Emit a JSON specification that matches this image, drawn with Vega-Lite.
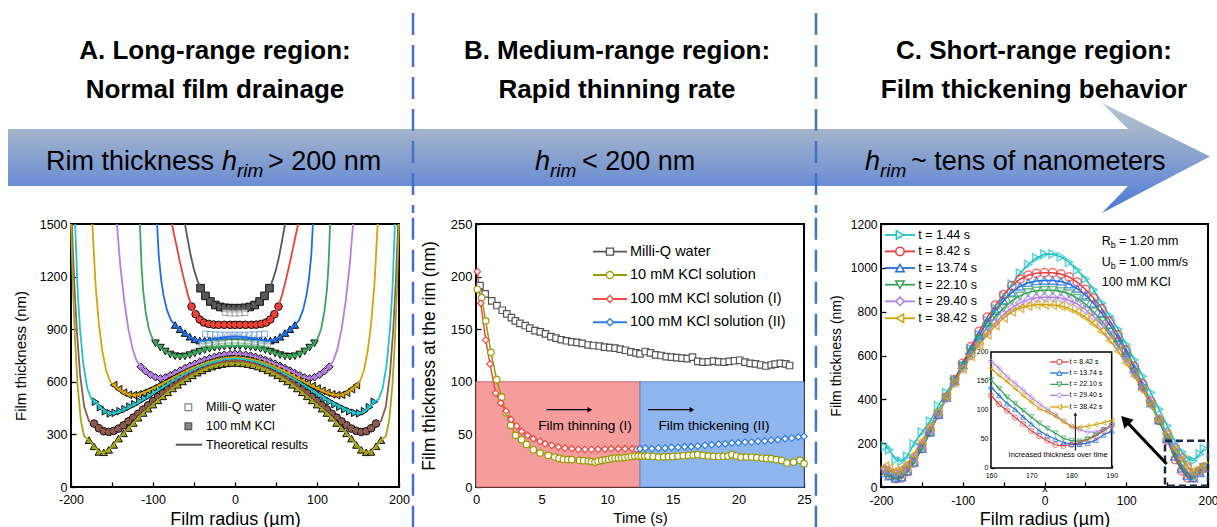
{
"$schema":"https://vega.github.io/schema/vega-lite/v6.json",
"background":"white",
"padding":{"left":8,"top":0,"right":0,"bottom":0},
"spacing":0,
"config":{
 "font":"Liberation Sans",
 "view":{"stroke":"black","strokeWidth":2},
 "axis":{"domain":false,"grid":false,"tickSize":-5,"tickColor":"black","tickWidth":1.3,"labelPadding":9,"labelColor":"black","labelFont":"Liberation Sans","labelFlush":false,"labelOverlap":false,"labelBound":false,"titleFont":"Liberation Sans","titleFontWeight":"normal","titleColor":"black","zindex":1},
 "axisBottom":{"labelPadding":11},
 "text":{"font":"Liberation Sans","color":"black"}
},
"datasets":{
"A":[
{"s":1,"x":-61,"y":1500,"m":0},{"s":1,"x":-58,"y":1420,"m":0},{"s":1,"x":-54,"y":1320,"m":0},{"s":1,"x":-50,"y":1240,"m":0},{"s":1,"x":-46,"y":1180,"m":0},
{"s":1,"x":-42,"y":1134,"m":1},{"s":1,"x":-36,"y":1090,"m":1},{"s":1,"x":-30,"y":1058,"m":1},{"s":1,"x":-24,"y":1038,"m":1},{"s":1,"x":-18,"y":1027,"m":1},{"s":1,"x":-12,"y":1022,"m":1},{"s":1,"x":-6,"y":1020,"m":1},{"s":1,"x":0,"y":1020,"m":1},{"s":1,"x":6,"y":1020,"m":1},{"s":1,"x":12,"y":1022,"m":1},{"s":1,"x":18,"y":1027,"m":1},{"s":1,"x":24,"y":1038,"m":1},{"s":1,"x":30,"y":1058,"m":1},{"s":1,"x":36,"y":1090,"m":1},{"s":1,"x":42,"y":1134,"m":1},
{"s":1,"x":46,"y":1180,"m":0},{"s":1,"x":50,"y":1240,"m":0},{"s":1,"x":54,"y":1320,"m":0},{"s":1,"x":58,"y":1420,"m":0},{"s":1,"x":61,"y":1500,"m":0},
{"s":2,"x":-77,"y":1500,"m":0},{"s":2,"x":-72,"y":1390,"m":0},{"s":2,"x":-67,"y":1280,"m":0},{"s":2,"x":-62,"y":1180,"m":0},{"s":2,"x":-57,"y":1090,"m":0},
{"s":2,"x":-53,"y":1029,"m":1},{"s":2,"x":-48,"y":985,"m":1},{"s":2,"x":-43,"y":955,"m":1},{"s":2,"x":-38,"y":938,"m":1},{"s":2,"x":-32,"y":930,"m":1},{"s":2,"x":-26,"y":926,"m":1},{"s":2,"x":-20,"y":925,"m":1},{"s":2,"x":-13,"y":925,"m":1},{"s":2,"x":-6,"y":925,"m":1},{"s":2,"x":0,"y":925,"m":1},{"s":2,"x":6,"y":925,"m":1},{"s":2,"x":13,"y":925,"m":1},{"s":2,"x":20,"y":925,"m":1},{"s":2,"x":26,"y":926,"m":1},{"s":2,"x":32,"y":930,"m":1},{"s":2,"x":38,"y":938,"m":1},{"s":2,"x":43,"y":955,"m":1},{"s":2,"x":48,"y":985,"m":1},{"s":2,"x":53,"y":1029,"m":1},
{"s":2,"x":57,"y":1090,"m":0},{"s":2,"x":62,"y":1180,"m":0},{"s":2,"x":67,"y":1280,"m":0},{"s":2,"x":72,"y":1390,"m":0},{"s":2,"x":77,"y":1500,"m":0},
{"s":3,"x":-95,"y":1500,"m":0},{"s":3,"x":-93,"y":1320,"m":0},{"s":3,"x":-90,"y":1180,"m":0},{"s":3,"x":-87,"y":1090,"m":0},{"s":3,"x":-83,"y":1010,"m":0},{"s":3,"x":-78,"y":950,"m":0},
{"s":3,"x":-73,"y":924,"m":1},{"s":3,"x":-67,"y":900,"m":1},{"s":3,"x":-61,"y":878,"m":1},{"s":3,"x":-55,"y":857,"m":1},{"s":3,"x":-49,"y":842,"m":1},{"s":3,"x":-43,"y":835,"m":1},{"s":3,"x":-37,"y":835,"m":1},{"s":3,"x":-31,"y":839,"m":1},{"s":3,"x":-25,"y":845,"m":1},{"s":3,"x":-19,"y":850,"m":1},{"s":3,"x":-13,"y":855,"m":1},{"s":3,"x":-6,"y":858,"m":1},{"s":3,"x":0,"y":859,"m":1},{"s":3,"x":6,"y":858,"m":1},{"s":3,"x":13,"y":855,"m":1},{"s":3,"x":19,"y":850,"m":1},{"s":3,"x":25,"y":845,"m":1},{"s":3,"x":31,"y":839,"m":1},{"s":3,"x":37,"y":835,"m":1},{"s":3,"x":43,"y":835,"m":1},{"s":3,"x":49,"y":842,"m":1},{"s":3,"x":55,"y":857,"m":1},{"s":3,"x":61,"y":878,"m":1},{"s":3,"x":67,"y":900,"m":1},{"s":3,"x":73,"y":924,"m":1},
{"s":3,"x":78,"y":950,"m":0},{"s":3,"x":83,"y":1010,"m":0},{"s":3,"x":87,"y":1090,"m":0},{"s":3,"x":90,"y":1180,"m":0},{"s":3,"x":93,"y":1320,"m":0},{"s":3,"x":95,"y":1500,"m":0},
{"s":4,"x":-116,"y":1500,"m":0},{"s":4,"x":-114,"y":1260,"m":0},{"s":4,"x":-112,"y":1120,"m":0},{"s":4,"x":-109,"y":1000,"m":0},{"s":4,"x":-105,"y":900,"m":0},{"s":4,"x":-101,"y":850,"m":0},
{"s":4,"x":-97,"y":820,"m":1},{"s":4,"x":-91,"y":795,"m":1},{"s":4,"x":-85,"y":773,"m":1},{"s":4,"x":-79,"y":756,"m":1},{"s":4,"x":-73,"y":746,"m":1},{"s":4,"x":-67,"y":743,"m":1},{"s":4,"x":-61,"y":745,"m":1},{"s":4,"x":-55,"y":752,"m":1},{"s":4,"x":-49,"y":762,"m":1},{"s":4,"x":-43,"y":772,"m":1},{"s":4,"x":-37,"y":781,"m":1},{"s":4,"x":-31,"y":788,"m":1},{"s":4,"x":-25,"y":794,"m":1},{"s":4,"x":-19,"y":798,"m":1},{"s":4,"x":-13,"y":801,"m":1},{"s":4,"x":-6,"y":803,"m":1},{"s":4,"x":0,"y":803,"m":1},{"s":4,"x":6,"y":803,"m":1},{"s":4,"x":13,"y":801,"m":1},{"s":4,"x":19,"y":798,"m":1},{"s":4,"x":25,"y":794,"m":1},{"s":4,"x":31,"y":788,"m":1},{"s":4,"x":37,"y":781,"m":1},{"s":4,"x":43,"y":772,"m":1},{"s":4,"x":49,"y":762,"m":1},{"s":4,"x":55,"y":752,"m":1},{"s":4,"x":61,"y":745,"m":1},{"s":4,"x":67,"y":743,"m":1},{"s":4,"x":73,"y":746,"m":1},{"s":4,"x":79,"y":756,"m":1},{"s":4,"x":85,"y":773,"m":1},{"s":4,"x":91,"y":795,"m":1},{"s":4,"x":97,"y":820,"m":1},
{"s":4,"x":101,"y":850,"m":0},{"s":4,"x":105,"y":900,"m":0},{"s":4,"x":109,"y":1000,"m":0},{"s":4,"x":112,"y":1120,"m":0},{"s":4,"x":114,"y":1260,"m":0},{"s":4,"x":116,"y":1500,"m":0},
{"s":5,"x":-144,"y":1500,"m":0},{"s":5,"x":-140,"y":1270,"m":0},{"s":5,"x":-135,"y":1060,"m":0},{"s":5,"x":-130,"y":900,"m":0},{"s":5,"x":-125,"y":790,"m":0},{"s":5,"x":-120,"y":720,"m":0},
{"s":5,"x":-115,"y":686,"m":1},{"s":5,"x":-109,"y":660,"m":1},{"s":5,"x":-103,"y":640,"m":1},{"s":5,"x":-97,"y":626,"m":1},{"s":5,"x":-91,"y":619,"m":1},{"s":5,"x":-85,"y":625,"m":1},{"s":5,"x":-79,"y":637,"m":1},{"s":5,"x":-73,"y":650,"m":1},{"s":5,"x":-67,"y":664,"m":1},{"s":5,"x":-61,"y":678,"m":1},{"s":5,"x":-55,"y":691,"m":1},{"s":5,"x":-49,"y":703,"m":1},{"s":5,"x":-43,"y":714,"m":1},{"s":5,"x":-37,"y":725,"m":1},{"s":5,"x":-31,"y":734,"m":1},{"s":5,"x":-25,"y":742,"m":1},{"s":5,"x":-19,"y":749,"m":1},{"s":5,"x":-13,"y":754,"m":1},{"s":5,"x":-6,"y":758,"m":1},{"s":5,"x":0,"y":760,"m":1},{"s":5,"x":6,"y":758,"m":1},{"s":5,"x":13,"y":754,"m":1},{"s":5,"x":19,"y":749,"m":1},{"s":5,"x":25,"y":742,"m":1},{"s":5,"x":31,"y":734,"m":1},{"s":5,"x":37,"y":725,"m":1},{"s":5,"x":43,"y":714,"m":1},{"s":5,"x":49,"y":703,"m":1},{"s":5,"x":55,"y":691,"m":1},{"s":5,"x":61,"y":678,"m":1},{"s":5,"x":67,"y":664,"m":1},{"s":5,"x":73,"y":650,"m":1},{"s":5,"x":79,"y":637,"m":1},{"s":5,"x":85,"y":625,"m":1},{"s":5,"x":91,"y":619,"m":1},{"s":5,"x":97,"y":626,"m":1},{"s":5,"x":103,"y":640,"m":1},{"s":5,"x":109,"y":660,"m":1},{"s":5,"x":115,"y":686,"m":1},
{"s":5,"x":120,"y":720,"m":0},{"s":5,"x":125,"y":790,"m":0},{"s":5,"x":130,"y":900,"m":0},{"s":5,"x":135,"y":1060,"m":0},{"s":5,"x":140,"y":1270,"m":0},{"s":5,"x":144,"y":1500,"m":0},
{"s":6,"x":-174,"y":1500,"m":0},{"s":6,"x":-170,"y":1150,"m":0},{"s":6,"x":-166,"y":930,"m":0},{"s":6,"x":-162,"y":780,"m":0},{"s":6,"x":-157,"y":660,"m":0},{"s":6,"x":-152,"y":600,"m":0},
{"s":6,"x":-148,"y":581,"m":1},{"s":6,"x":-142,"y":558,"m":1},{"s":6,"x":-136,"y":538,"m":1},{"s":6,"x":-130,"y":526,"m":1},{"s":6,"x":-124,"y":524,"m":1},{"s":6,"x":-118,"y":528,"m":1},{"s":6,"x":-112,"y":537,"m":1},{"s":6,"x":-106,"y":549,"m":1},{"s":6,"x":-100,"y":562,"m":1},{"s":6,"x":-94,"y":576,"m":1},{"s":6,"x":-88,"y":591,"m":1},{"s":6,"x":-82,"y":606,"m":1},{"s":6,"x":-76,"y":621,"m":1},{"s":6,"x":-70,"y":636,"m":1},{"s":6,"x":-64,"y":651,"m":1},{"s":6,"x":-58,"y":665,"m":1},{"s":6,"x":-52,"y":678,"m":1},{"s":6,"x":-46,"y":690,"m":1},{"s":6,"x":-40,"y":701,"m":1},{"s":6,"x":-34,"y":711,"m":1},{"s":6,"x":-28,"y":719,"m":1},{"s":6,"x":-22,"y":726,"m":1},{"s":6,"x":-16,"y":732,"m":1},{"s":6,"x":-10,"y":736,"m":1},{"s":6,"x":-4,"y":739,"m":1},{"s":6,"x":0,"y":740,"m":1},{"s":6,"x":4,"y":739,"m":1},{"s":6,"x":10,"y":736,"m":1},{"s":6,"x":16,"y":732,"m":1},{"s":6,"x":22,"y":726,"m":1},{"s":6,"x":28,"y":719,"m":1},{"s":6,"x":34,"y":711,"m":1},{"s":6,"x":40,"y":701,"m":1},{"s":6,"x":46,"y":690,"m":1},{"s":6,"x":52,"y":678,"m":1},{"s":6,"x":58,"y":665,"m":1},{"s":6,"x":64,"y":651,"m":1},{"s":6,"x":70,"y":636,"m":1},{"s":6,"x":76,"y":621,"m":1},{"s":6,"x":82,"y":606,"m":1},{"s":6,"x":88,"y":591,"m":1},{"s":6,"x":94,"y":576,"m":1},{"s":6,"x":100,"y":562,"m":1},{"s":6,"x":106,"y":549,"m":1},{"s":6,"x":112,"y":537,"m":1},{"s":6,"x":118,"y":528,"m":1},{"s":6,"x":124,"y":524,"m":1},{"s":6,"x":130,"y":526,"m":1},{"s":6,"x":136,"y":538,"m":1},{"s":6,"x":142,"y":558,"m":1},{"s":6,"x":148,"y":581,"m":1},
{"s":6,"x":152,"y":600,"m":0},{"s":6,"x":157,"y":660,"m":0},{"s":6,"x":162,"y":780,"m":0},{"s":6,"x":166,"y":930,"m":0},{"s":6,"x":170,"y":1150,"m":0},{"s":6,"x":174,"y":1500,"m":0},
{"s":7,"x":-195,"y":1500,"m":0},{"s":7,"x":-192,"y":1130,"m":0},{"s":7,"x":-189,"y":900,"m":0},{"s":7,"x":-185,"y":700,"m":0},{"s":7,"x":-180,"y":560,"m":0},{"s":7,"x":-175,"y":500,"m":0},
{"s":7,"x":-170,"y":486,"m":1},{"s":7,"x":-164,"y":455,"m":1},{"s":7,"x":-158,"y":432,"m":1},{"s":7,"x":-152,"y":420,"m":1},{"s":7,"x":-146,"y":423,"m":1},{"s":7,"x":-140,"y":432,"m":1},{"s":7,"x":-134,"y":444,"m":1},{"s":7,"x":-128,"y":458,"m":1},{"s":7,"x":-122,"y":472,"m":1},{"s":7,"x":-116,"y":488,"m":1},{"s":7,"x":-110,"y":505,"m":1},{"s":7,"x":-104,"y":522,"m":1},{"s":7,"x":-98,"y":540,"m":1},{"s":7,"x":-92,"y":558,"m":1},{"s":7,"x":-86,"y":575,"m":1},{"s":7,"x":-80,"y":593,"m":1},{"s":7,"x":-74,"y":610,"m":1},{"s":7,"x":-68,"y":626,"m":1},{"s":7,"x":-62,"y":642,"m":1},{"s":7,"x":-56,"y":657,"m":1},{"s":7,"x":-50,"y":670,"m":1},{"s":7,"x":-44,"y":683,"m":1},{"s":7,"x":-38,"y":694,"m":1},{"s":7,"x":-32,"y":704,"m":1},{"s":7,"x":-26,"y":713,"m":1},{"s":7,"x":-20,"y":720,"m":1},{"s":7,"x":-14,"y":726,"m":1},{"s":7,"x":-8,"y":730,"m":1},{"s":7,"x":-2,"y":732,"m":1},{"s":7,"x":2,"y":732,"m":1},{"s":7,"x":8,"y":730,"m":1},{"s":7,"x":14,"y":726,"m":1},{"s":7,"x":20,"y":720,"m":1},{"s":7,"x":26,"y":713,"m":1},{"s":7,"x":32,"y":704,"m":1},{"s":7,"x":38,"y":694,"m":1},{"s":7,"x":44,"y":683,"m":1},{"s":7,"x":50,"y":670,"m":1},{"s":7,"x":56,"y":657,"m":1},{"s":7,"x":62,"y":642,"m":1},{"s":7,"x":68,"y":626,"m":1},{"s":7,"x":74,"y":610,"m":1},{"s":7,"x":80,"y":593,"m":1},{"s":7,"x":86,"y":575,"m":1},{"s":7,"x":92,"y":558,"m":1},{"s":7,"x":98,"y":540,"m":1},{"s":7,"x":104,"y":522,"m":1},{"s":7,"x":110,"y":505,"m":1},{"s":7,"x":116,"y":488,"m":1},{"s":7,"x":122,"y":472,"m":1},{"s":7,"x":128,"y":458,"m":1},{"s":7,"x":134,"y":444,"m":1},{"s":7,"x":140,"y":432,"m":1},{"s":7,"x":146,"y":423,"m":1},{"s":7,"x":152,"y":420,"m":1},{"s":7,"x":158,"y":432,"m":1},{"s":7,"x":164,"y":455,"m":1},{"s":7,"x":170,"y":486,"m":1},
{"s":7,"x":175,"y":500,"m":0},{"s":7,"x":180,"y":560,"m":0},{"s":7,"x":185,"y":700,"m":0},{"s":7,"x":189,"y":900,"m":0},{"s":7,"x":192,"y":1130,"m":0},{"s":7,"x":195,"y":1500,"m":0},
{"s":8,"x":-199,"y":1500,"m":0},{"s":8,"x":-196,"y":1160,"m":0},{"s":8,"x":-193,"y":900,"m":0},{"s":8,"x":-189,"y":645,"m":0},{"s":8,"x":-184,"y":460,"m":0},{"s":8,"x":-178,"y":375,"m":0},
{"s":8,"x":-172,"y":362,"m":1},{"s":8,"x":-166,"y":335,"m":1},{"s":8,"x":-160,"y":318,"m":1},{"s":8,"x":-154,"y":314,"m":1},{"s":8,"x":-148,"y":320,"m":1},{"s":8,"x":-142,"y":333,"m":1},{"s":8,"x":-136,"y":352,"m":1},{"s":8,"x":-130,"y":374,"m":1},{"s":8,"x":-124,"y":396,"m":1},{"s":8,"x":-118,"y":418,"m":1},{"s":8,"x":-112,"y":442,"m":1},{"s":8,"x":-106,"y":466,"m":1},{"s":8,"x":-100,"y":490,"m":1},{"s":8,"x":-94,"y":513,"m":1},{"s":8,"x":-88,"y":535,"m":1},{"s":8,"x":-82,"y":556,"m":1},{"s":8,"x":-76,"y":576,"m":1},{"s":8,"x":-70,"y":595,"m":1},{"s":8,"x":-64,"y":614,"m":1},{"s":8,"x":-58,"y":630,"m":1},{"s":8,"x":-52,"y":646,"m":1},{"s":8,"x":-46,"y":660,"m":1},{"s":8,"x":-40,"y":674,"m":1},{"s":8,"x":-34,"y":686,"m":1},{"s":8,"x":-28,"y":697,"m":1},{"s":8,"x":-22,"y":706,"m":1},{"s":8,"x":-16,"y":712,"m":1},{"s":8,"x":-10,"y":717,"m":1},{"s":8,"x":-4,"y":720,"m":1},{"s":8,"x":4,"y":720,"m":1},{"s":8,"x":10,"y":717,"m":1},{"s":8,"x":16,"y":712,"m":1},{"s":8,"x":22,"y":706,"m":1},{"s":8,"x":28,"y":697,"m":1},{"s":8,"x":34,"y":686,"m":1},{"s":8,"x":40,"y":674,"m":1},{"s":8,"x":46,"y":660,"m":1},{"s":8,"x":52,"y":646,"m":1},{"s":8,"x":58,"y":630,"m":1},{"s":8,"x":64,"y":614,"m":1},{"s":8,"x":70,"y":595,"m":1},{"s":8,"x":76,"y":576,"m":1},{"s":8,"x":82,"y":556,"m":1},{"s":8,"x":88,"y":535,"m":1},{"s":8,"x":94,"y":513,"m":1},{"s":8,"x":100,"y":490,"m":1},{"s":8,"x":106,"y":466,"m":1},{"s":8,"x":112,"y":442,"m":1},{"s":8,"x":118,"y":418,"m":1},{"s":8,"x":124,"y":396,"m":1},{"s":8,"x":130,"y":374,"m":1},{"s":8,"x":136,"y":352,"m":1},{"s":8,"x":142,"y":333,"m":1},{"s":8,"x":148,"y":320,"m":1},{"s":8,"x":154,"y":314,"m":1},{"s":8,"x":160,"y":318,"m":1},{"s":8,"x":166,"y":335,"m":1},{"s":8,"x":172,"y":362,"m":1},
{"s":8,"x":178,"y":375,"m":0},{"s":8,"x":184,"y":460,"m":0},{"s":8,"x":189,"y":645,"m":0},{"s":8,"x":193,"y":900,"m":0},{"s":8,"x":196,"y":1160,"m":0},{"s":8,"x":199,"y":1500,"m":0},
{"s":9,"x":-200,"y":1500,"m":0},{"s":9,"x":-197.5,"y":1124,"m":0},{"s":9,"x":-195,"y":833,"m":0},{"s":9,"x":-192,"y":583,"m":0},{"s":9,"x":-188,"y":380,"m":0},{"s":9,"x":-184,"y":290,"m":0},
{"s":9,"x":-178,"y":267,"m":1},{"s":9,"x":-172,"y":232,"m":1},{"s":9,"x":-166,"y":200,"m":1},{"s":9,"x":-160,"y":198,"m":1},{"s":9,"x":-154,"y":212,"m":1},{"s":9,"x":-148,"y":240,"m":1},{"s":9,"x":-142,"y":276,"m":1},{"s":9,"x":-136,"y":306,"m":1},{"s":9,"x":-130,"y":335,"m":1},{"s":9,"x":-124,"y":365,"m":1},{"s":9,"x":-118,"y":395,"m":1},{"s":9,"x":-112,"y":422,"m":1},{"s":9,"x":-106,"y":447,"m":1},{"s":9,"x":-100,"y":470,"m":1},{"s":9,"x":-94,"y":494,"m":1},{"s":9,"x":-88,"y":517,"m":1},{"s":9,"x":-82,"y":540,"m":1},{"s":9,"x":-76,"y":562,"m":1},{"s":9,"x":-70,"y":583,"m":1},{"s":9,"x":-64,"y":602,"m":1},{"s":9,"x":-58,"y":620,"m":1},{"s":9,"x":-52,"y":637,"m":1},{"s":9,"x":-46,"y":652,"m":1},{"s":9,"x":-40,"y":665,"m":1},{"s":9,"x":-34,"y":677,"m":1},{"s":9,"x":-28,"y":687,"m":1},{"s":9,"x":-22,"y":695,"m":1},{"s":9,"x":-16,"y":701,"m":1},{"s":9,"x":-10,"y":705,"m":1},{"s":9,"x":-4,"y":707,"m":1},{"s":9,"x":4,"y":707,"m":1},{"s":9,"x":10,"y":705,"m":1},{"s":9,"x":16,"y":701,"m":1},{"s":9,"x":22,"y":695,"m":1},{"s":9,"x":28,"y":687,"m":1},{"s":9,"x":34,"y":677,"m":1},{"s":9,"x":40,"y":665,"m":1},{"s":9,"x":46,"y":652,"m":1},{"s":9,"x":52,"y":637,"m":1},{"s":9,"x":58,"y":620,"m":1},{"s":9,"x":64,"y":602,"m":1},{"s":9,"x":70,"y":583,"m":1},{"s":9,"x":76,"y":562,"m":1},{"s":9,"x":82,"y":540,"m":1},{"s":9,"x":88,"y":517,"m":1},{"s":9,"x":94,"y":494,"m":1},{"s":9,"x":100,"y":470,"m":1},{"s":9,"x":106,"y":447,"m":1},{"s":9,"x":112,"y":422,"m":1},{"s":9,"x":118,"y":395,"m":1},{"s":9,"x":124,"y":365,"m":1},{"s":9,"x":130,"y":335,"m":1},{"s":9,"x":136,"y":306,"m":1},{"s":9,"x":142,"y":276,"m":1},{"s":9,"x":148,"y":240,"m":1},{"s":9,"x":154,"y":212,"m":1},{"s":9,"x":160,"y":198,"m":1},{"s":9,"x":166,"y":200,"m":1},{"s":9,"x":172,"y":232,"m":1},{"s":9,"x":178,"y":267,"m":1},
{"s":9,"x":184,"y":290,"m":0},{"s":9,"x":188,"y":380,"m":0},{"s":9,"x":192,"y":583,"m":0},{"s":9,"x":195,"y":833,"m":0},{"s":9,"x":197.5,"y":1124,"m":0},{"s":9,"x":200,"y":1500,"m":0}
],
"Aw":[
{"s":1,"x":-12,"y":995},{"s":1,"x":-6,"y":993},{"s":1,"x":0,"y":992},{"s":1,"x":6,"y":993},{"s":1,"x":12,"y":995},
{"s":3,"x":-36,"y":872},{"s":3,"x":-30,"y":870},{"s":3,"x":-24,"y":868},{"s":3,"x":-18,"y":867},{"s":3,"x":-12,"y":866},{"s":3,"x":-6,"y":866},{"s":3,"x":0,"y":866},{"s":3,"x":6,"y":866},{"s":3,"x":12,"y":866},{"s":3,"x":18,"y":867},{"s":3,"x":24,"y":868},{"s":3,"x":30,"y":870},{"s":3,"x":36,"y":872},
{"s":4,"x":-40,"y":815},{"s":4,"x":-32,"y":818},{"s":4,"x":-24,"y":820},{"s":4,"x":-16,"y":822},{"s":4,"x":-8,"y":823},{"s":4,"x":0,"y":823},{"s":4,"x":8,"y":823},{"s":4,"x":16,"y":822},{"s":4,"x":24,"y":820},{"s":4,"x":32,"y":818},{"s":4,"x":40,"y":815}
],
"B":[
{"s":"w","x":0.3,"y":191.5},{"s":"w","x":0.7,"y":183.5},{"s":"w","x":1.2,"y":177},{"s":"w","x":1.6,"y":172.5},{"s":"w","x":2.0,"y":168},{"s":"w","x":2.35,"y":164.6},{"s":"w","x":2.7,"y":161},{"s":"w","x":3.0,"y":158},{"s":"w","x":3.35,"y":155.5},{"s":"w","x":3.75,"y":153.5},{"s":"w","x":4.1,"y":151},{"s":"w","x":4.5,"y":148.7},{"s":"w","x":4.9,"y":147.5},{"s":"w","x":5.3,"y":145.5},{"s":"w","x":5.7,"y":143},{"s":"w","x":6.1,"y":141.5},{"s":"w","x":6.5,"y":140},{"s":"w","x":6.9,"y":139},{"s":"w","x":7.3,"y":138},{"s":"w","x":7.7,"y":137.5},{"s":"w","x":8.1,"y":136.5},{"s":"w","x":8.55,"y":135},{"s":"w","x":8.95,"y":134.5},{"s":"w","x":9.4,"y":134},{"s":"w","x":9.8,"y":133},{"s":"w","x":10.2,"y":132.5},{"s":"w","x":10.6,"y":132},{"s":"w","x":11.0,"y":131},{"s":"w","x":11.4,"y":130},{"s":"w","x":11.8,"y":128.5},{"s":"w","x":12.2,"y":127.5},{"s":"w","x":12.5,"y":126.5},{"s":"w","x":12.9,"y":128.8},{"s":"w","x":13.3,"y":127.5},{"s":"w","x":13.7,"y":125.6},{"s":"w","x":14.1,"y":125},{"s":"w","x":14.5,"y":124},{"s":"w","x":14.9,"y":123.5},{"s":"w","x":15.3,"y":123},{"s":"w","x":15.7,"y":122.5},{"s":"w","x":16.1,"y":122},{"s":"w","x":16.5,"y":123.5},{"s":"w","x":16.9,"y":119.5},{"s":"w","x":17.3,"y":118.7},{"s":"w","x":17.7,"y":119},{"s":"w","x":18.1,"y":119.6},{"s":"w","x":18.5,"y":119},{"s":"w","x":18.9,"y":118.7},{"s":"w","x":19.3,"y":119.5},{"s":"w","x":19.7,"y":120},{"s":"w","x":20.1,"y":120.5},{"s":"w","x":20.5,"y":118.7},{"s":"w","x":20.9,"y":117.5},{"s":"w","x":21.3,"y":117},{"s":"w","x":21.7,"y":116},{"s":"w","x":22.1,"y":115},{"s":"w","x":22.5,"y":116},{"s":"w","x":22.8,"y":116.8},{"s":"w","x":23.2,"y":117.5},{"s":"w","x":23.6,"y":117},{"s":"w","x":23.9,"y":115.5},
{"s":"k10","x":0.1,"y":188},{"s":"k10","x":0.43,"y":180},{"s":"k10","x":0.74,"y":158},{"s":"k10","x":1.14,"y":128},{"s":"k10","x":1.58,"y":102},{"s":"k10","x":1.96,"y":85.4},{"s":"k10","x":2.29,"y":70.6},{"s":"k10","x":2.64,"y":58.5},{"s":"k10","x":3.02,"y":49},{"s":"k10","x":3.48,"y":45},{"s":"k10","x":3.86,"y":40.5},{"s":"k10","x":4.37,"y":35.4},{"s":"k10","x":4.88,"y":32.3},{"s":"k10","x":5.5,"y":30},{"s":"k10","x":6.0,"y":28.5},{"s":"k10","x":6.33,"y":27.2},{"s":"k10","x":6.66,"y":26.3},{"s":"k10","x":7.0,"y":26.1},{"s":"k10","x":7.3,"y":26},{"s":"k10","x":7.9,"y":25.3},{"s":"k10","x":8.2,"y":25},{"s":"k10","x":8.56,"y":24.7},{"s":"k10","x":8.8,"y":24.2},{"s":"k10","x":9.07,"y":23.7},{"s":"k10","x":9.3,"y":24.5},{"s":"k10","x":9.58,"y":25.3},{"s":"k10","x":9.85,"y":25.8},{"s":"k10","x":10.1,"y":26.3},{"s":"k10","x":10.35,"y":27},{"s":"k10","x":10.6,"y":27.5},{"s":"k10","x":10.85,"y":27.5},{"s":"k10","x":11.1,"y":27.5},{"s":"k10","x":11.35,"y":28},{"s":"k10","x":11.6,"y":28.5},{"s":"k10","x":11.85,"y":29},{"s":"k10","x":12.1,"y":29.4},{"s":"k10","x":12.35,"y":29.4},{"s":"k10","x":12.6,"y":29.4},{"s":"k10","x":12.85,"y":29.4},{"s":"k10","x":13.1,"y":29.4},{"s":"k10","x":13.5,"y":29},{"s":"k10","x":13.9,"y":28.5},{"s":"k10","x":14.3,"y":28.7},{"s":"k10","x":14.66,"y":28.8},{"s":"k10","x":15.0,"y":29},{"s":"k10","x":15.4,"y":29.4},{"s":"k10","x":15.8,"y":29.7},{"s":"k10","x":16.2,"y":30},{"s":"k10","x":16.55,"y":30.3},{"s":"k10","x":16.9,"y":30.7},{"s":"k10","x":17.3,"y":30},{"s":"k10","x":17.7,"y":29.4},{"s":"k10","x":18.1,"y":29.2},{"s":"k10","x":18.5,"y":29},{"s":"k10","x":18.85,"y":29.2},{"s":"k10","x":19.2,"y":29.4},{"s":"k10","x":19.5,"y":30.7},{"s":"k10","x":19.85,"y":29.5},{"s":"k10","x":20.2,"y":28.5},{"s":"k10","x":20.6,"y":28.5},{"s":"k10","x":21.0,"y":28.5},{"s":"k10","x":21.4,"y":28},{"s":"k10","x":21.8,"y":27.5},{"s":"k10","x":22.15,"y":27.2},{"s":"k10","x":22.5,"y":26.9},{"s":"k10","x":22.9,"y":26},{"s":"k10","x":23.3,"y":25.3},{"s":"k10","x":23.7,"y":22.8},{"s":"k10","x":24.2,"y":23.7},{"s":"k10","x":24.7,"y":25.3},{"s":"k10","x":25.0,"y":22.2},
{"s":"k100a","x":0.1,"y":204.7},{"s":"k100a","x":0.36,"y":174.7},{"s":"k100a","x":0.74,"y":139.9},{"s":"k100a","x":1.07,"y":117},{"s":"k100a","x":1.5,"y":89.2},{"s":"k100a","x":1.88,"y":79.7},{"s":"k100a","x":2.29,"y":72.2},{"s":"k100a","x":2.67,"y":64.2},{"s":"k100a","x":3.1,"y":57.9},{"s":"k100a","x":3.48,"y":52.8},{"s":"k100a","x":3.94,"y":49},{"s":"k100a","x":4.37,"y":45.9},{"s":"k100a","x":4.88,"y":43.4},{"s":"k100a","x":5.26,"y":41.1},{"s":"k100a","x":5.77,"y":39.6},{"s":"k100a","x":6.28,"y":38},{"s":"k100a","x":6.78,"y":37},{"s":"k100a","x":7.3,"y":36.4},{"s":"k100a","x":7.8,"y":35.8},{"s":"k100a","x":8.3,"y":35.8},{"s":"k100a","x":8.8,"y":35.8},{"s":"k100a","x":9.3,"y":35.8},{"s":"k100a","x":9.83,"y":36},{"s":"k100a","x":10.3,"y":36.4},{"s":"k100a","x":10.85,"y":36.4},{"s":"k100a","x":11.36,"y":36.4},{"s":"k100a","x":11.9,"y":36.4},{"s":"k100a","x":12.25,"y":35.8},
{"s":"k100b","x":12.5,"y":36.4},{"s":"k100b","x":12.9,"y":37},{"s":"k100b","x":13.4,"y":36.4},{"s":"k100b","x":13.9,"y":37},{"s":"k100b","x":14.4,"y":37},{"s":"k100b","x":14.9,"y":37.7},{"s":"k100b","x":15.4,"y":37.7},{"s":"k100b","x":15.9,"y":38.3},{"s":"k100b","x":16.4,"y":38.3},{"s":"k100b","x":16.9,"y":38.9},{"s":"k100b","x":17.45,"y":39.6},{"s":"k100b","x":17.96,"y":40.2},{"s":"k100b","x":18.5,"y":40.8},{"s":"k100b","x":19.0,"y":41.1},{"s":"k100b","x":19.5,"y":41.8},{"s":"k100b","x":20.0,"y":42.1},{"s":"k100b","x":20.5,"y":42.7},{"s":"k100b","x":21.0,"y":42.7},{"s":"k100b","x":21.5,"y":43.4},{"s":"k100b","x":22.0,"y":43.7},{"s":"k100b","x":22.5,"y":44.3},{"s":"k100b","x":23.0,"y":44.9},{"s":"k100b","x":23.55,"y":45.9},{"s":"k100b","x":24.06,"y":46.5},{"s":"k100b","x":24.57,"y":47.5},{"s":"k100b","x":25.0,"y":48.1}
],
"C":[
{"t":"1.44","x":-195,"y":185},{"t":"1.44","x":-190,"y":170},{"t":"1.44","x":-182,"y":125},{"t":"1.44","x":-175,"y":118},{"t":"1.44","x":-168,"y":140},{"t":"1.44","x":-160,"y":195},{"t":"1.44","x":-150,"y":250},{"t":"1.44","x":-140,"y":300},{"t":"1.44","x":-130,"y":370},{"t":"1.44","x":-120,"y":430},{"t":"1.44","x":-110,"y":490},{"t":"1.44","x":-100,"y":555},{"t":"1.44","x":-90,"y":630},{"t":"1.44","x":-80,"y":695},{"t":"1.44","x":-70,"y":760},{"t":"1.44","x":-60,"y":815},{"t":"1.44","x":-50,"y":870},{"t":"1.44","x":-40,"y":925},{"t":"1.44","x":-30,"y":975},{"t":"1.44","x":-20,"y":1015},{"t":"1.44","x":-10,"y":1045},{"t":"1.44","x":0,"y":1062},{"t":"1.44","x":10,"y":1063},{"t":"1.44","x":20,"y":1050},{"t":"1.44","x":30,"y":1025},{"t":"1.44","x":40,"y":990},{"t":"1.44","x":50,"y":950},{"t":"1.44","x":60,"y":900},{"t":"1.44","x":70,"y":840},{"t":"1.44","x":80,"y":780},{"t":"1.44","x":90,"y":720},{"t":"1.44","x":100,"y":650},{"t":"1.44","x":110,"y":580},{"t":"1.44","x":120,"y":505},{"t":"1.44","x":130,"y":430},{"t":"1.44","x":140,"y":355},{"t":"1.44","x":150,"y":280},{"t":"1.44","x":160,"y":205},{"t":"1.44","x":168,"y":160},{"t":"1.44","x":175,"y":130},{"t":"1.44","x":182,"y":120},{"t":"1.44","x":190,"y":150},{"t":"1.44","x":195,"y":175},
{"t":"8.42","x":-195,"y":75},{"t":"8.42","x":-190,"y":55},{"t":"8.42","x":-182,"y":38},{"t":"8.42","x":-175,"y":42},{"t":"8.42","x":-168,"y":70},{"t":"8.42","x":-160,"y":110},{"t":"8.42","x":-150,"y":175},{"t":"8.42","x":-140,"y":250},{"t":"8.42","x":-130,"y":330},{"t":"8.42","x":-120,"y":410},{"t":"8.42","x":-110,"y":490},{"t":"8.42","x":-100,"y":565},{"t":"8.42","x":-90,"y":640},{"t":"8.42","x":-80,"y":710},{"t":"8.42","x":-70,"y":775},{"t":"8.42","x":-60,"y":830},{"t":"8.42","x":-50,"y":878},{"t":"8.42","x":-40,"y":918},{"t":"8.42","x":-30,"y":948},{"t":"8.42","x":-20,"y":966},{"t":"8.42","x":-10,"y":975},{"t":"8.42","x":0,"y":978},{"t":"8.42","x":10,"y":978},{"t":"8.42","x":20,"y":972},{"t":"8.42","x":30,"y":958},{"t":"8.42","x":40,"y":935},{"t":"8.42","x":50,"y":902},{"t":"8.42","x":60,"y":862},{"t":"8.42","x":70,"y":815},{"t":"8.42","x":80,"y":758},{"t":"8.42","x":90,"y":695},{"t":"8.42","x":100,"y":625},{"t":"8.42","x":110,"y":550},{"t":"8.42","x":120,"y":470},{"t":"8.42","x":130,"y":390},{"t":"8.42","x":140,"y":305},{"t":"8.42","x":150,"y":215},{"t":"8.42","x":160,"y":125},{"t":"8.42","x":168,"y":75},{"t":"8.42","x":175,"y":42},{"t":"8.42","x":182,"y":43},{"t":"8.42","x":190,"y":73},{"t":"8.42","x":195,"y":90},
{"t":"13.74","x":-195,"y":65},{"t":"13.74","x":-190,"y":50},{"t":"13.74","x":-182,"y":40},{"t":"13.74","x":-175,"y":45},{"t":"13.74","x":-168,"y":72},{"t":"13.74","x":-160,"y":112},{"t":"13.74","x":-150,"y":175},{"t":"13.74","x":-140,"y":250},{"t":"13.74","x":-130,"y":330},{"t":"13.74","x":-120,"y":408},{"t":"13.74","x":-110,"y":485},{"t":"13.74","x":-100,"y":558},{"t":"13.74","x":-90,"y":628},{"t":"13.74","x":-80,"y":692},{"t":"13.74","x":-70,"y":752},{"t":"13.74","x":-60,"y":805},{"t":"13.74","x":-50,"y":850},{"t":"13.74","x":-40,"y":888},{"t":"13.74","x":-30,"y":915},{"t":"13.74","x":-20,"y":932},{"t":"13.74","x":-10,"y":940},{"t":"13.74","x":0,"y":942},{"t":"13.74","x":10,"y":942},{"t":"13.74","x":20,"y":938},{"t":"13.74","x":30,"y":926},{"t":"13.74","x":40,"y":905},{"t":"13.74","x":50,"y":875},{"t":"13.74","x":60,"y":838},{"t":"13.74","x":70,"y":793},{"t":"13.74","x":80,"y":740},{"t":"13.74","x":90,"y":680},{"t":"13.74","x":100,"y":613},{"t":"13.74","x":110,"y":540},{"t":"13.74","x":120,"y":462},{"t":"13.74","x":130,"y":383},{"t":"13.74","x":140,"y":305},{"t":"13.74","x":150,"y":220},{"t":"13.74","x":160,"y":140},{"t":"13.74","x":168,"y":85},{"t":"13.74","x":175,"y":52},{"t":"13.74","x":182,"y":41},{"t":"13.74","x":190,"y":64},{"t":"13.74","x":195,"y":85},
{"t":"22.10","x":-195,"y":70},{"t":"22.10","x":-190,"y":55},{"t":"22.10","x":-182,"y":45},{"t":"22.10","x":-175,"y":52},{"t":"22.10","x":-168,"y":78},{"t":"22.10","x":-160,"y":118},{"t":"22.10","x":-150,"y":180},{"t":"22.10","x":-140,"y":252},{"t":"22.10","x":-130,"y":330},{"t":"22.10","x":-120,"y":405},{"t":"22.10","x":-110,"y":480},{"t":"22.10","x":-100,"y":550},{"t":"22.10","x":-90,"y":615},{"t":"22.10","x":-80,"y":675},{"t":"22.10","x":-70,"y":730},{"t":"22.10","x":-60,"y":778},{"t":"22.10","x":-50,"y":818},{"t":"22.10","x":-40,"y":850},{"t":"22.10","x":-30,"y":872},{"t":"22.10","x":-20,"y":888},{"t":"22.10","x":-10,"y":895},{"t":"22.10","x":0,"y":898},{"t":"22.10","x":10,"y":898},{"t":"22.10","x":20,"y":893},{"t":"22.10","x":30,"y":882},{"t":"22.10","x":40,"y":862},{"t":"22.10","x":50,"y":835},{"t":"22.10","x":60,"y":800},{"t":"22.10","x":70,"y":758},{"t":"22.10","x":80,"y":708},{"t":"22.10","x":90,"y":652},{"t":"22.10","x":100,"y":590},{"t":"22.10","x":110,"y":522},{"t":"22.10","x":120,"y":450},{"t":"22.10","x":130,"y":375},{"t":"22.10","x":140,"y":300},{"t":"22.10","x":150,"y":225},{"t":"22.10","x":160,"y":152},{"t":"22.10","x":168,"y":100},{"t":"22.10","x":175,"y":64},{"t":"22.10","x":182,"y":46},{"t":"22.10","x":190,"y":73},{"t":"22.10","x":195,"y":90},
{"t":"29.40","x":-195,"y":85},{"t":"29.40","x":-190,"y":75},{"t":"29.40","x":-182,"y":65},{"t":"29.40","x":-175,"y":72},{"t":"29.40","x":-168,"y":95},{"t":"29.40","x":-160,"y":135},{"t":"29.40","x":-150,"y":195},{"t":"29.40","x":-140,"y":262},{"t":"29.40","x":-130,"y":335},{"t":"29.40","x":-120,"y":405},{"t":"29.40","x":-110,"y":475},{"t":"29.40","x":-100,"y":540},{"t":"29.40","x":-90,"y":600},{"t":"29.40","x":-80,"y":655},{"t":"29.40","x":-70,"y":705},{"t":"29.40","x":-60,"y":750},{"t":"29.40","x":-50,"y":788},{"t":"29.40","x":-40,"y":818},{"t":"29.40","x":-30,"y":840},{"t":"29.40","x":-20,"y":855},{"t":"29.40","x":-10,"y":863},{"t":"29.40","x":0,"y":866},{"t":"29.40","x":10,"y":866},{"t":"29.40","x":20,"y":862},{"t":"29.40","x":30,"y":852},{"t":"29.40","x":40,"y":835},{"t":"29.40","x":50,"y":810},{"t":"29.40","x":60,"y":778},{"t":"29.40","x":70,"y":740},{"t":"29.40","x":80,"y":695},{"t":"29.40","x":90,"y":643},{"t":"29.40","x":100,"y":585},{"t":"29.40","x":110,"y":520},{"t":"29.40","x":120,"y":452},{"t":"29.40","x":130,"y":382},{"t":"29.40","x":140,"y":312},{"t":"29.40","x":150,"y":245},{"t":"29.40","x":160,"y":184},{"t":"29.40","x":168,"y":136},{"t":"29.40","x":175,"y":95},{"t":"29.40","x":182,"y":66},{"t":"29.40","x":190,"y":73},{"t":"29.40","x":195,"y":90},
{"t":"38.42","x":-195,"y":95},{"t":"38.42","x":-190,"y":85},{"t":"38.42","x":-182,"y":75},{"t":"38.42","x":-175,"y":82},{"t":"38.42","x":-168,"y":105},{"t":"38.42","x":-160,"y":148},{"t":"38.42","x":-150,"y":210},{"t":"38.42","x":-140,"y":275},{"t":"38.42","x":-130,"y":345},{"t":"38.42","x":-120,"y":412},{"t":"38.42","x":-110,"y":478},{"t":"38.42","x":-100,"y":540},{"t":"38.42","x":-90,"y":596},{"t":"38.42","x":-80,"y":648},{"t":"38.42","x":-70,"y":695},{"t":"38.42","x":-60,"y":737},{"t":"38.42","x":-50,"y":772},{"t":"38.42","x":-40,"y":799},{"t":"38.42","x":-30,"y":816},{"t":"38.42","x":-20,"y":826},{"t":"38.42","x":-10,"y":831},{"t":"38.42","x":0,"y":832},{"t":"38.42","x":10,"y":830},{"t":"38.42","x":20,"y":826},{"t":"38.42","x":30,"y":815},{"t":"38.42","x":40,"y":798},{"t":"38.42","x":50,"y":775},{"t":"38.42","x":60,"y":745},{"t":"38.42","x":70,"y":710},{"t":"38.42","x":80,"y":668},{"t":"38.42","x":90,"y":620},{"t":"38.42","x":100,"y":566},{"t":"38.42","x":110,"y":506},{"t":"38.42","x":120,"y":442},{"t":"38.42","x":130,"y":375},{"t":"38.42","x":140,"y":307},{"t":"38.42","x":150,"y":242},{"t":"38.42","x":160,"y":172},{"t":"38.42","x":168,"y":128},{"t":"38.42","x":175,"y":93},{"t":"38.42","x":182,"y":70},{"t":"38.42","x":190,"y":82},{"t":"38.42","x":195,"y":95}
],
"Cin":[
{"t":"8.42","x":160,"y":125},{"t":"8.42","x":162,"y":110},{"t":"8.42","x":164,"y":99},{"t":"8.42","x":166,"y":87},{"t":"8.42","x":168,"y":76},{"t":"8.42","x":170,"y":64},{"t":"8.42","x":172,"y":55},{"t":"8.42","x":174,"y":47},{"t":"8.42","x":176,"y":40},{"t":"8.42","x":178,"y":38},{"t":"8.42","x":180,"y":40},{"t":"8.42","x":182,"y":43},{"t":"8.42","x":184,"y":49},{"t":"8.42","x":186,"y":55},{"t":"8.42","x":188,"y":64},{"t":"8.42","x":190,"y":73},
{"t":"13.74","x":160,"y":140},{"t":"13.74","x":162,"y":125},{"t":"13.74","x":164,"y":111},{"t":"13.74","x":166,"y":101},{"t":"13.74","x":168,"y":88},{"t":"13.74","x":170,"y":76},{"t":"13.74","x":172,"y":64},{"t":"13.74","x":174,"y":56},{"t":"13.74","x":176,"y":50},{"t":"13.74","x":178,"y":44},{"t":"13.74","x":180,"y":41},{"t":"13.74","x":182,"y":41},{"t":"13.74","x":184,"y":43},{"t":"13.74","x":186,"y":48},{"t":"13.74","x":188,"y":57},{"t":"13.74","x":190,"y":64},
{"t":"22.10","x":160,"y":152},{"t":"22.10","x":162,"y":137},{"t":"22.10","x":164,"y":122},{"t":"22.10","x":166,"y":111},{"t":"22.10","x":168,"y":99},{"t":"22.10","x":170,"y":88},{"t":"22.10","x":172,"y":77},{"t":"22.10","x":174,"y":68},{"t":"22.10","x":176,"y":60},{"t":"22.10","x":178,"y":51},{"t":"22.10","x":180,"y":47},{"t":"22.10","x":182,"y":46},{"t":"22.10","x":184,"y":50},{"t":"22.10","x":186,"y":57},{"t":"22.10","x":188,"y":66},{"t":"22.10","x":190,"y":73},
{"t":"29.40","x":160,"y":184},{"t":"29.40","x":162,"y":172},{"t":"29.40","x":164,"y":157},{"t":"29.40","x":166,"y":146},{"t":"29.40","x":168,"y":134},{"t":"29.40","x":170,"y":122},{"t":"29.40","x":172,"y":111},{"t":"29.40","x":174,"y":101},{"t":"29.40","x":176,"y":92},{"t":"29.40","x":178,"y":81},{"t":"29.40","x":180,"y":72},{"t":"29.40","x":182,"y":66},{"t":"29.40","x":184,"y":62},{"t":"29.40","x":186,"y":62},{"t":"29.40","x":188,"y":67},{"t":"29.40","x":190,"y":73},
{"t":"38.42","x":160,"y":172},{"t":"38.42","x":162,"y":160},{"t":"38.42","x":164,"y":149},{"t":"38.42","x":166,"y":137},{"t":"38.42","x":168,"y":125},{"t":"38.42","x":170,"y":114},{"t":"38.42","x":172,"y":102},{"t":"38.42","x":174,"y":97},{"t":"38.42","x":176,"y":89},{"t":"38.42","x":178,"y":80},{"t":"38.42","x":180,"y":71},{"t":"38.42","x":182,"y":70},{"t":"38.42","x":184,"y":72},{"t":"38.42","x":186,"y":75},{"t":"38.42","x":188,"y":78},{"t":"38.42","x":190,"y":82}
],
"Cleg":[
{"t":"1.44","y":1150,"lab":"t = 1.44 s"},{"t":"8.42","y":1075,"lab":"t = 8.42 s"},{"t":"13.74","y":999,"lab":"t = 13.74 s"},{"t":"22.10","y":923,"lab":"t = 22.10 s"},{"t":"29.40","y":847,"lab":"t = 29.40 s"},{"t":"38.42","y":770,"lab":"t = 38.42 s"}
],
"Cinleg":[
{"t":"8.42","y":182.8,"lab":"t = 8.42 s"},{"t":"13.74","y":163.8,"lab":"t = 13.74 s"},{"t":"22.10","y":144.1,"lab":"t = 22.10 s"},{"t":"29.40","y":125.2,"lab":"t = 29.40 s"},{"t":"38.42","y":105.2,"lab":"t = 38.42 s"}
]
},
"vconcat":[
{
 "width":1146,"height":213,"view":{"stroke":null},
 "layer":[
  {"data":{"values":[{"x":1102,"y":103,"y2":213},{"x":1210,"y":156.5,"y2":156.5}]},
   "mark":{"type":"area","orient":"vertical","fill":{"gradient":"linear","x1":0,"y1":0,"x2":0,"y2":1,"stops":[{"offset":0,"color":"#b9c7d0"},{"offset":0.24,"color":"#a3b3cb"},{"offset":0.76,"color":"#698cd3"},{"offset":1,"color":"#4576dc"}]}},
   "encoding":{"x":{"field":"x","type":"quantitative","scale":{"domain":[71,1217],"nice":false,"zero":false},"axis":null},
               "y":{"field":"y","type":"quantitative","scale":{"domain":[0,213],"nice":false,"zero":false,"reverse":true},"axis":null},
               "y2":{"field":"y2"}}},
  {"data":{"values":[{"x":1101,"y":102,"y2":129.5},{"x":1128.5,"y":129.5,"y2":129.5}]},
   "mark":{"type":"area","orient":"vertical","fill":"white"},
   "encoding":{"x":{"field":"x","type":"quantitative"},"y":{"field":"y","type":"quantitative"},"y2":{"field":"y2"}}},
  {"data":{"values":[{"x":1101,"y":185.5,"y2":214},{"x":1128.5,"y":185.5,"y2":185.5}]},
   "mark":{"type":"area","orient":"vertical","fill":"white"},
   "encoding":{"x":{"field":"x","type":"quantitative"},"y":{"field":"y","type":"quantitative"},"y2":{"field":"y2"}}},
  {"data":{"values":[{"x":8,"y":129,"y2":186},{"x":1128,"y":129,"y2":186}]},
   "mark":{"type":"area","orient":"vertical","fill":{"gradient":"linear","x1":0,"y1":-0.456,"x2":0,"y2":1.474,"stops":[{"offset":0,"color":"#b9c7d0"},{"offset":0.24,"color":"#a3b3cb"},{"offset":0.76,"color":"#698cd3"},{"offset":1,"color":"#4576dc"}]}},
   "encoding":{"x":{"field":"x","type":"quantitative"},"y":{"field":"y","type":"quantitative"},"y2":{"field":"y2"}}},
  {"data":{"values":[{"x":413,"y":13,"y2":213},{"x":816,"y":13,"y2":213}]},
   "mark":{"type":"rule","color":"#4472c4","strokeWidth":2.5,"strokeDash":[22,10]},
   "encoding":{"x":{"field":"x","type":"quantitative"},"y":{"field":"y","type":"quantitative"},"y2":{"field":"y2"}}},
  {"data":{"values":[{"x":215,"y":59,"t":"A. Long-range region:"},{"x":215,"y":98,"t":"Normal film drainage"},{"x":617,"y":59,"t":"B. Medium-range region:"},{"x":617,"y":98,"t":"Rapid thinning rate"},{"x":1034,"y":59,"t":"C. Short-range region:"},{"x":1034,"y":98,"t":"Film thickening behavior"}]},
   "mark":{"type":"text","align":"center","baseline":"alphabetic","fontSize":26,"fontWeight":"bold","font":"Liberation Sans"},
   "encoding":{"x":{"field":"x","type":"quantitative"},"y":{"field":"y","type":"quantitative"},"text":{"field":"t"}}},
  {"data":{"values":[{"x":46,"y":170,"t":"Rim thickness"},{"x":268,"y":170,"t":"> 200 nm"},{"x":582,"y":170,"t":"< 200 nm"},{"x":911,"y":170,"t":"~ tens of nanometers"}]},
   "mark":{"type":"text","align":"left","baseline":"alphabetic","fontSize":27},
   "encoding":{"x":{"field":"x","type":"quantitative"},"y":{"field":"y","type":"quantitative"},"text":{"field":"t"}}},
  {"data":{"values":[{"x":222,"y":170,"t":"h"},{"x":535,"y":170,"t":"h"},{"x":865,"y":170,"t":"h"}]},
   "mark":{"type":"text","align":"left","baseline":"alphabetic","fontSize":27,"fontStyle":"italic"},
   "encoding":{"x":{"field":"x","type":"quantitative"},"y":{"field":"y","type":"quantitative"},"text":{"field":"t"}}},
  {"data":{"values":[{"x":237,"y":177,"t":"rim"},{"x":550,"y":177,"t":"rim"},{"x":880,"y":177,"t":"rim"}]},
   "mark":{"type":"text","align":"left","baseline":"alphabetic","fontSize":19,"fontStyle":"italic"},
   "encoding":{"x":{"field":"x","type":"quantitative"},"y":{"field":"y","type":"quantitative"},"text":{"field":"t"}}}
 ]
},
{
 "hconcat":[
 {
  "width":328,"height":263,
  "layer":[
   {"data":{"name":"A"},"transform":[{"filter":"datum.m == 1"}],
    "mark":{"type":"point","filled":true,"size":58,"stroke":"#111111","strokeWidth":1,"opacity":1},
    "encoding":{
     "x":{"field":"x","type":"quantitative","title":"Film radius (µm)","scale":{"domain":[-200,200],"nice":false,"zero":false},
          "axis":{"values":[-200,-150,-100,-50,0,50,100,150,200],"labelExpr":"datum.value % 100 == 0 ? '' + datum.value : ''","labelFontSize":12.5,"titleFontSize":18,"titlePadding":5}},
     "y":{"field":"y","type":"quantitative","title":"Film thickness (nm)","scale":{"domain":[0,1500],"nice":false,"zero":false},
          "axis":{"values":[0,150,300,450,600,750,900,1050,1200,1350,1500],"labelExpr":"datum.value % 300 == 0 ? '' + datum.value : ''","labelFontSize":12.5,"titleFontSize":15,"titlePadding":11}},
     "fill":{"field":"s","type":"nominal","scale":{"domain":[1,2,3,4,5,6,7,8,9],"range":["#5a5a5a","#ef4136","#1f6fe5","#3ba55c","#b77ee6","#d9a404","#20c5cc","#8f5b50","#a6a619"]},"legend":null},
     "shape":{"field":"s","type":"nominal","scale":{"domain":[1,2,3,4,5,6,7,8,9],"range":["square","circle","triangle-up","triangle-down","diamond","triangle-left","triangle-right","circle","triangle-up"]},"legend":null}}},
   {"data":{"name":"Aw"},
    "mark":{"type":"point","shape":"square","filled":true,"fill":"white","size":35,"strokeWidth":1},
    "encoding":{"x":{"field":"x","type":"quantitative"},"y":{"field":"y","type":"quantitative"},
     "stroke":{"field":"s","type":"nominal","scale":{"domain":[1,3,4],"range":["#808080","#4a8be8","#5cbf7a"]},"legend":null}}},
   {"data":{"name":"A"},
    "mark":{"type":"line","strokeWidth":1.8},
    "encoding":{"x":{"field":"x","type":"quantitative"},"y":{"field":"y","type":"quantitative"},
     "color":{"field":"s","type":"nominal","scale":{"domain":[1,2,3,4,5,6,7,8,9],"range":["#5a5a5a","#ef4136","#1f6fe5","#3ba55c","#b77ee6","#d9a404","#20c5cc","#8f5b50","#a6a619"]},"legend":null}}},
   {"data":{"values":[{}]},
    "mark":{"type":"point","shape":"square","filled":true,"fill":"white","stroke":"#555555","strokeWidth":1.2,"size":45},
    "encoding":{"x":{"datum":-56.9},"y":{"datum":454.6}}},
   {"data":{"values":[{}]},
    "mark":{"type":"point","shape":"square","filled":true,"fill":"#555555","stroke":"#111111","strokeWidth":1.2,"size":45},
    "encoding":{"x":{"datum":-56.9},"y":{"datum":346.2}}},
   {"data":{"values":[{}]},
    "mark":{"type":"rule","color":"#555555","strokeWidth":2},
    "encoding":{"x":{"datum":-72.3},"x2":{"datum":-40},"y":{"datum":241.3}}},
   {"data":{"values":[{"y":454.6,"t":"Milli-Q water"},{"y":346.2,"t":"100 mM KCl"},{"y":241.3,"t":"Theoretical results"}]},
    "mark":{"type":"text","align":"left","baseline":"middle","fontSize":12.5},
    "encoding":{"x":{"datum":-35.4},"y":{"field":"y","type":"quantitative"},"text":{"field":"t"}}},
   {"data":{"values":[{}]},
    "mark":{"type":"rule","color":"#4472c4","strokeWidth":2.5,"strokeDash":[22,10]},
    "encoding":{"x":{"datum":217.07},"y":{"datum":1535},"y2":{"datum":-251}}}
  ]
 },
 {
  "width":328,"height":263,
  "layer":[
   {"data":{"values":[{"k":"I","x":0,"x2":12.5,"y":0,"y2":100},{"k":"II","x":12.5,"x2":25,"y":0,"y2":100}]},
    "mark":{"type":"rect","strokeWidth":1},
    "encoding":{
     "x":{"field":"x","type":"quantitative","title":"Time (s)","scale":{"domain":[0,25],"nice":false,"zero":false},
          "axis":{"values":[0,2.5,5,7.5,10,12.5,15,17.5,20,22.5,25],"labelExpr":"datum.value % 5 == 0 ? '' + datum.value : ''","labelFontSize":13,"titleFontSize":15,"titlePadding":4}},
     "x2":{"field":"x2"},
     "y":{"field":"y","type":"quantitative","title":"Film thickness at the rim (nm)","scale":{"domain":[0,250],"nice":false,"zero":false},
          "axis":{"values":[0,25,50,75,100,125,150,175,200,225,250],"labelExpr":"datum.value % 50 == 0 ? '' + datum.value : ''","labelFontSize":13,"titleFontSize":17.5,"titlePadding":12}},
     "y2":{"field":"y2"},
     "fill":{"field":"k","type":"nominal","scale":{"domain":["I","II"],"range":["#f59c9c","#8fb5ef"]},"legend":null},
     "stroke":{"field":"k","type":"nominal","scale":{"domain":["I","II"],"range":["#c86a6a","#5f88c9"]},"legend":null}}},
   {"data":{"name":"B"},
    "mark":{"type":"line","strokeWidth":1.5},
    "encoding":{"x":{"field":"x","type":"quantitative"},"y":{"field":"y","type":"quantitative"},
     "color":{"field":"s","type":"nominal","scale":{"domain":["w","k10","k100a","k100b"],"range":["#555555","#9b9b00","#f24a44","#2f7de1"]},"legend":null}}},
   {"data":{"name":"B"},
    "mark":{"type":"point","filled":false,"fill":"white","size":42,"strokeWidth":1.2,"opacity":1},
    "encoding":{"x":{"field":"x","type":"quantitative"},"y":{"field":"y","type":"quantitative"},
     "color":{"field":"s","type":"nominal","legend":null},
     "shape":{"field":"s","type":"nominal","scale":{"domain":["w","k10","k100a","k100b"],"range":["square","circle","diamond","diamond"]},"legend":null}}},
   {"data":{"values":[{"s":"w","y":223.7},{"s":"k10","y":201.5},{"s":"k100a","y":178.7},{"s":"k100b","y":156.6}]},
    "mark":{"type":"rule","strokeWidth":1.8},
    "encoding":{"x":{"datum":8.92},"x2":{"datum":11.51},"y":{"field":"y","type":"quantitative"},"color":{"field":"s","type":"nominal","legend":null}}},
   {"data":{"values":[{"s":"w","y":223.7},{"s":"k10","y":201.5},{"s":"k100a","y":178.7},{"s":"k100b","y":156.6}]},
    "mark":{"type":"point","filled":false,"fill":"white","size":50,"strokeWidth":1.3,"opacity":1},
    "encoding":{"x":{"datum":10.21},"y":{"field":"y","type":"quantitative"},"color":{"field":"s","type":"nominal","legend":null},"shape":{"field":"s","type":"nominal","legend":null}}},
   {"data":{"values":[{"y":223.7,"t":"Milli-Q water"},{"y":201.5,"t":"10 mM KCl solution"},{"y":178.7,"t":"100 mM KCl solution (I)"},{"y":156.6,"t":"100 mM KCl solution (II)"}]},
    "mark":{"type":"text","align":"left","baseline":"middle","fontSize":14.5},
    "encoding":{"x":{"datum":11.74},"y":{"field":"y","type":"quantitative"},"text":{"field":"t"}}},
   {"data":{"values":[{"x":5.39,"x2":8.55,"y":73.5},{"x":13.11,"x2":16.3,"y":73.5}]},
    "mark":{"type":"rule","color":"black","strokeWidth":1.3},
    "encoding":{"x":{"field":"x","type":"quantitative"},"x2":{"field":"x2"},"y":{"field":"y","type":"quantitative"}}},
   {"data":{"values":[{"x":8.67,"y":73.5},{"x":16.46,"y":73.5}]},
    "mark":{"type":"point","shape":"triangle-right","filled":true,"color":"black","size":30,"opacity":1},
    "encoding":{"x":{"field":"x","type":"quantitative"},"y":{"field":"y","type":"quantitative"}}},
   {"data":{"values":[{"x":8.31,"y":58.3,"t":"Film thinning (I)"},{"x":18.14,"y":58.3,"t":"Film thickening (II)"}]},
    "mark":{"type":"text","align":"center","baseline":"middle","fontSize":13.6},
    "encoding":{"x":{"field":"x","type":"quantitative"},"y":{"field":"y","type":"quantitative"},"text":{"field":"t"}}},
   {"data":{"values":[{}]},
    "mark":{"type":"rule","color":"#4472c4","strokeWidth":2.5,"strokeDash":[22,10]},
    "encoding":{"x":{"datum":25.91},"y":{"datum":256},"y2":{"datum":-42}}}
  ]
 },
 {
  "width":327,"height":263,
  "resolve":{"scale":{"x":"independent","y":"independent"}},
  "layer":[
   {"layer":[
     {"data":{"name":"C"},
      "mark":{"type":"line","strokeWidth":1.5},
      "encoding":{
       "x":{"field":"x","type":"quantitative","title":"Film radius (µm)","scale":{"domain":[-200,200],"nice":false,"zero":false},
            "axis":{"orient":"bottom","values":[-200,-150,-100,-50,0,50,100,150,200],"labelExpr":"datum.value % 100 == 0 ? '' + datum.value : ''","labelFontSize":12,"labelPadding":13,"titleFontSize":18,"titlePadding":4}},
       "y":{"field":"y","type":"quantitative","title":"Film thickness (nm)","scale":{"domain":[0,1200],"nice":false,"zero":false},
            "axis":{"orient":"left","values":[0,100,200,300,400,500,600,700,800,900,1000,1100,1200],"labelExpr":"datum.value % 200 == 0 ? '' + datum.value : ''","labelFontSize":12,"titleFontSize":14,"titlePadding":7}},
       "color":{"field":"t","type":"nominal","scale":{"domain":["1.44","8.42","13.74","22.10","29.40","38.42"],"range":["#1cc3c6","#f03a3a","#1f6fe0","#35a35a","#b27fea","#d4a10a"]},"legend":null}}},
     {"data":{"name":"C"},
      "mark":{"type":"point","filled":false,"size":70,"strokeWidth":1.5},
      "encoding":{"x":{"field":"x","type":"quantitative"},"y":{"field":"y","type":"quantitative"},
       "color":{"field":"t","type":"nominal","legend":null},
       "shape":{"field":"t","type":"nominal","scale":{"domain":["1.44","8.42","13.74","22.10","29.40","38.42"],"range":["triangle-right","circle","triangle-up","triangle-down","diamond","triangle-left"]},"legend":null}}},
     {"data":{"name":"Cleg"},
      "mark":{"type":"rule","strokeWidth":1.8},
      "encoding":{"x":{"datum":-195.1},"x2":{"datum":-158.4},"y":{"field":"y","type":"quantitative"},"color":{"field":"t","type":"nominal","legend":null}}},
     {"data":{"name":"Cleg"},
      "mark":{"type":"point","filled":false,"fill":"white","size":70,"strokeWidth":1.5,"opacity":1},
      "encoding":{"x":{"datum":-176.8},"y":{"field":"y","type":"quantitative"},"color":{"field":"t","type":"nominal","legend":null},"shape":{"field":"t","type":"nominal","legend":null}}},
     {"data":{"name":"Cleg"},
      "mark":{"type":"text","align":"left","baseline":"middle","fontSize":12.5},
      "encoding":{"x":{"datum":-154.4},"y":{"field":"y","type":"quantitative"},"text":{"field":"lab"}}},
     {"data":{"values":[{"x":70,"y":1124,"t":"R"},{"x":91,"y":1124,"t":"= 1.20 mm"},{"x":70,"y":1025,"t":"U"},{"x":91,"y":1025,"t":"= 1.00 mm/s"},{"x":70,"y":934,"t":"100 mM KCl"}]},
      "mark":{"type":"text","align":"left","baseline":"middle","fontSize":12.5},
      "encoding":{"x":{"field":"x","type":"quantitative"},"y":{"field":"y","type":"quantitative"},"text":{"field":"t"}}},
     {"data":{"values":[{"x":81,"y":1106,"t":"b"},{"x":81,"y":1007,"t":"b"}]},
      "mark":{"type":"text","align":"left","baseline":"middle","fontSize":9},
      "encoding":{"x":{"field":"x","type":"quantitative"},"y":{"field":"y","type":"quantitative"},"text":{"field":"t"}}},
     {"data":{"values":[{}]},
      "mark":{"type":"rect","fillOpacity":0,"stroke":"#1d2b47","strokeWidth":2.5,"strokeDash":[7,4]},
      "encoding":{"x":{"datum":147.4},"x2":{"datum":200},"y":{"datum":6},"y2":{"datum":211}}},
     {"data":{"values":[{}]},
      "mark":{"type":"rule","color":"black","strokeWidth":3},
      "encoding":{"x":{"datum":149.5},"x2":{"datum":98.6},"y":{"datum":105},"y2":{"datum":305}}},
     {"data":{"values":[{}]},
      "mark":{"type":"point","shape":"triangle-up","filled":true,"color":"black","size":170,"angle":316.6,"opacity":1},
      "encoding":{"x":{"datum":98.6},"y":{"datum":305}}}
   ]},
   {"layer":[
     {"data":{"values":[{}]},
      "mark":{"type":"rect","fill":"white","stroke":"black","strokeWidth":1.5},
      "encoding":{
       "x":{"datum":160,"type":"quantitative","title":null,"scale":{"domain":[132.66,213.94],"nice":false,"zero":false},
            "axis":{"orient":"bottom","offset":-19,"values":[160,165,170,175,180,185,190],"labelExpr":"datum.value % 10 == 0 ? '' + datum.value : ''","labelFontSize":7,"tickSize":-3,"labelPadding":6}},
       "x2":{"datum":190},
       "y":{"datum":0,"type":"quantitative","title":null,"scale":{"domain":[-32.8,420.7],"nice":false,"zero":false},
            "axis":{"orient":"left","offset":-110,"values":[0,25,50,75,100,125,150,175,200],"labelExpr":"datum.value % 50 == 0 ? '' + datum.value : ''","labelFontSize":7,"tickSize":-3,"labelPadding":6}},
       "y2":{"datum":200}}},
     {"data":{"name":"Cin"},
      "mark":{"type":"line","strokeWidth":1.2},
      "encoding":{"x":{"field":"x","type":"quantitative"},"y":{"field":"y","type":"quantitative"},"color":{"field":"t","type":"nominal","legend":null}}},
     {"data":{"name":"Cin"},
      "mark":{"type":"point","filled":false,"size":28,"strokeWidth":1},
      "encoding":{"x":{"field":"x","type":"quantitative"},"y":{"field":"y","type":"quantitative"},"color":{"field":"t","type":"nominal","legend":null},"shape":{"field":"t","type":"nominal","legend":null}}},
     {"data":{"name":"Cinleg"},
      "mark":{"type":"rule","strokeWidth":1.3},
      "encoding":{"x":{"datum":174.7},"x2":{"datum":179.3},"y":{"field":"y","type":"quantitative"},"color":{"field":"t","type":"nominal","legend":null}}},
     {"data":{"name":"Cinleg"},
      "mark":{"type":"point","filled":false,"fill":"white","size":28,"strokeWidth":1,"opacity":1},
      "encoding":{"x":{"datum":177},"y":{"field":"y","type":"quantitative"},"color":{"field":"t","type":"nominal","legend":null},"shape":{"field":"t","type":"nominal","legend":null}}},
     {"data":{"name":"Cinleg"},
      "mark":{"type":"text","align":"left","baseline":"middle","fontSize":7},
      "encoding":{"x":{"datum":179.5},"y":{"field":"y","type":"quantitative"},"text":{"field":"lab"}}},
     {"data":{"values":[{}]},
      "mark":{"type":"text","align":"center","baseline":"middle","fontSize":7.5,"text":"Increased thickness over time"},
      "encoding":{"x":{"datum":176.7},"y":{"datum":21.7}}},
     {"data":{"values":[{}]},
      "mark":{"type":"rule","color":"black","strokeWidth":1},
      "encoding":{"x":{"datum":180.96},"y":{"datum":30},"y2":{"datum":90}}},
     {"data":{"values":[{}]},
      "mark":{"type":"point","shape":"triangle-up","filled":true,"color":"black","size":14,"opacity":1},
      "encoding":{"x":{"datum":180.96},"y":{"datum":93}}}
   ]}
  ]
 }
 ],
 "spacing":77,
 "bounds":"flush",
 "resolve":{"scale":{"color":"independent","fill":"independent","stroke":"independent","shape":"independent"}}
}
]
}
